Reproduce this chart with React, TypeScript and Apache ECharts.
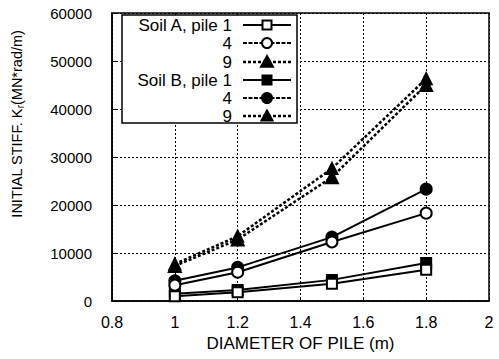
import React, { useEffect, useRef } from "react";
import * as echarts from "echarts";

const diameters = [1, 1.2, 1.5, 1.8];
const soilA1 = [1000, 1800, 3600, 6500];
const soilA4 = [3300, 6000, 12300, 18300];
const soilA9 = [7300, 12800, 25800, 45000];
const soilB1 = [1500, 2300, 4400, 7900];
const soilB4 = [4200, 7000, 13300, 23300];
const soilB9 = [7700, 13500, 27600, 46300];
const legendLabels = ["Soil A, pile 1", "4", "9", "Soil B, pile 1", "4", "9"];

const FONT = "Liberation Sans, Arial, sans-serif";

type SDef = { name: string; data: number[]; symbol: string; size: number; filled: boolean; dash: any; legendDash: any; width: number };

const defs: SDef[] = [
  { name: "Soil A, pile 1", data: soilA1, symbol: "rect", size: 10, filled: false, dash: "solid", legendDash: null, width: 2 },
  { name: "Soil A, pile 4", data: soilA4, symbol: "circle", size: 11, filled: false, dash: "solid", legendDash: [4, 1.5], width: 2 },
  { name: "Soil A, pile 9", data: soilA9, symbol: "triangle", size: 12, filled: true, dash: [3, 2], legendDash: [3, 2], width: 2.5 },
  { name: "Soil B, pile 1", data: soilB1, symbol: "rect", size: 10, filled: true, dash: "solid", legendDash: null, width: 2 },
  { name: "Soil B, pile 4", data: soilB4, symbol: "circle", size: 11, filled: true, dash: "solid", legendDash: [4, 1.5], width: 2 },
  { name: "Soil B, pile 9", data: soilB9, symbol: "triangle", size: 11, filled: true, dash: [3, 2], legendDash: [3, 2], width: 2.5 },
];

export default function App() {
  const ref = useRef<HTMLDivElement>(null);
  useEffect(() => {
    if (!ref.current) return;
    const chart = echarts.init(ref.current, null, { renderer: "svg" });

    const legendGraphics: any[] = [
      {
        type: "rect",
        shape: { x: 122, y: 15, width: 175, height: 108 },
        style: { fill: "#fff", stroke: "#000", lineWidth: 1.5 },
        z: 100,
      },
    ];
    const rowY = [25, 43, 62, 80, 98, 116];
    defs.forEach((d, i) => {
      const y = rowY[i];
      legendGraphics.push({
        type: "text",
        x: 232,
        y,
        style: { text: legendLabels[i], font: `17px ${FONT}`, fill: "#000", align: "right", verticalAlign: "middle" },
        z: 101,
      });
      legendGraphics.push({
        type: "line",
        shape: { x1: 243, y1: y, x2: 291, y2: y },
        style: { stroke: "#000", lineWidth: d.width, lineDash: d.legendDash },
        z: 101,
      });
      const st = { fill: d.filled ? "#000" : "#fff", stroke: "#000", lineWidth: 2 };
      if (d.symbol === "rect") {
        legendGraphics.push({ type: "rect", shape: { x: 267 - 4.5, y: y - 4.5, width: 9, height: 9 }, style: st, z: 102 });
      } else if (d.symbol === "circle") {
        legendGraphics.push({ type: "circle", shape: { cx: 267, cy: y, r: 5 }, style: st, z: 102 });
      } else {
        const s = d.size / 2;
        legendGraphics.push({
          type: "polygon",
          shape: { points: [[267, y - s], [267 + s, y + s * 0.8], [267 - s, y + s * 0.8]] },
          style: st,
          z: 102,
        });
      }
    });

    legendGraphics.push({
      type: "text",
      x: 17,
      y: 124,
      rotation: Math.PI / 2,
      style: {
        text: "INITIAL STIFF. K{sub|r}(MN*rad/m)",
        font: `14.5px ${FONT}`,
        fill: "#000",
        align: "center",
        verticalAlign: "middle",
        rich: { sub: { font: `10px ${FONT}`, fill: "#000", verticalAlign: "bottom", padding: [6, 0, 0, 0] } },
      },
    });

    chart.setOption({
      animation: false,
      grid: { left: 112, right: 10, top: 13, bottom: 58, show: true, borderColor: "#000", borderWidth: 1.5 },
      xAxis: {
        type: "value",
        min: 0.8,
        max: 2,
        interval: 0.2,
        name: "DIAMETER OF PILE (m)",
        nameLocation: "middle",
        nameGap: 33,
        nameTextStyle: { fontFamily: FONT, fontSize: 17, color: "#000" },
        axisLine: { show: true, lineStyle: { color: "#000", width: 1.5 } },
        axisTick: { show: true, inside: true, length: 4, lineStyle: { color: "#000" } },
        axisLabel: {
          fontFamily: FONT,
          fontSize: 16,
          color: "#000",
          margin: 13,
          formatter: (v: number) => String(Number(v.toFixed(1))),
        },
        splitLine: { show: true, lineStyle: { color: "#000", type: [2, 2], width: 1 } },
      },
      yAxis: {
        type: "value",
        min: 0,
        max: 60000,
        interval: 10000,
        axisLine: { show: true, lineStyle: { color: "#000", width: 1.5 } },
        axisTick: { show: true, inside: true, length: 4, lineStyle: { color: "#000" } },
        axisLabel: { fontFamily: FONT, fontSize: 15, color: "#000", margin: 20, formatter: (v: number) => String(v) },
        splitLine: { show: true, lineStyle: { color: "#000", type: [2, 2], width: 1 } },
      },
      graphic: legendGraphics,
      series: defs.map((d) => ({
        type: "line",
        name: d.name,
        data: d.data.map((v, i) => [diameters[i], v]),
        symbol: d.symbol,
        symbolSize: d.size,
        showAllSymbol: true,
        itemStyle: { color: d.filled ? "#000" : "#fff", borderColor: "#000", borderWidth: 2 },
        lineStyle: { color: "#000", width: d.width, type: d.dash },
        z: d.filled ? 3 : 4,
      })),
    });
    return () => chart.dispose();
  }, []);
  return <div ref={ref} style={{ width: 499, height: 359, position: "absolute", left: 0, top: 0 }} />;
}
